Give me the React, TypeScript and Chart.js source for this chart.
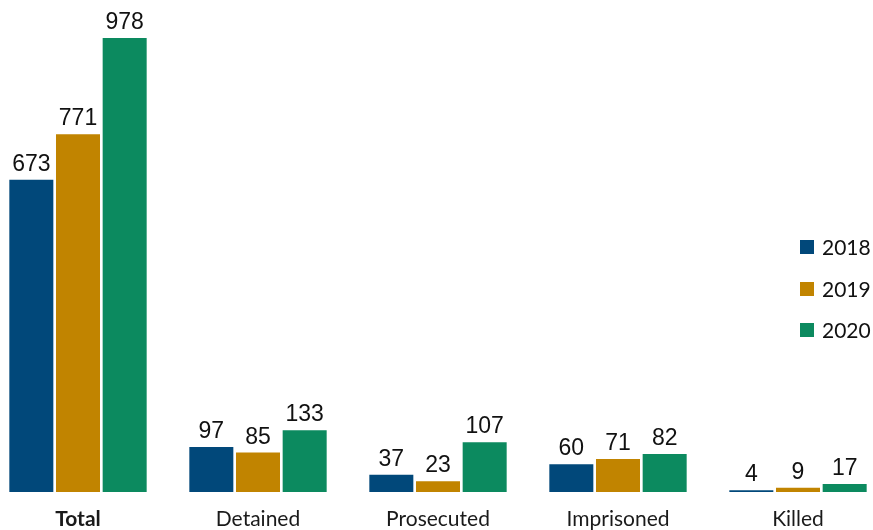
import React, { useEffect, useRef } from "react";
import { Chart, registerables } from "chart.js";

Chart.register(...registerables);

const categories = ["Total", "Detained", "Prosecuted", "Imprisoned", "Killed"];
const seriesNames = ["2018", "2019", "2020"];
const values2018 = [673, 97, 37, 60, 4];
const values2019 = [771, 85, 23, 71, 9];
const values2020 = [978, 133, 107, 82, 17];
const colors = ["#01487a", "#c18400", "#0c8a5f"];
const yMax = 1060;

const labelPlugin = {
  id: "valueLabels",
  afterDatasetsDraw(chart: any) {
    const ctx = chart.ctx;
    ctx.save();
    ctx.font = '23px "Liberation Sans Narrow", "Arial Narrow", sans-serif';
    ctx.fillStyle = "#111111";
    ctx.textAlign = "center";
    ctx.textBaseline = "alphabetic";
    chart.data.datasets.forEach((ds: any, i: number) => {
      const meta = chart.getDatasetMeta(i);
      meta.data.forEach((bar: any, j: number) => {
        ctx.fillText(String(ds.data[j]), bar.x, bar.y - 9);
      });
    });
    ctx.restore();
  },
};

const legendPlugin = {
  id: "sideLegend",
  afterDraw(chart: any) {
    const ctx = chart.ctx;
    ctx.save();
    const x = 812;
    const centers = [247, 289, 330];
    ctx.font = '21px Lato, sans-serif';
    ctx.textBaseline = "middle";
    ctx.textAlign = "left";
    chart.data.datasets.forEach((ds: any, i: number) => {
      ctx.fillStyle = ds.backgroundColor;
      ctx.fillRect(x, centers[i] - 7, 14, 14);
      ctx.fillStyle = "#111111";
      ctx.fillText(ds.label, x + 22, centers[i] + 1);
    });
    ctx.restore();
  },
};

export default function App() {
  const ref = useRef<HTMLCanvasElement>(null);
  useEffect(() => {
    if (!ref.current) return;
    const seriesValues = [values2018, values2019, values2020];
    const chart = new Chart(ref.current, {
      type: "bar",
      data: {
        labels: categories,
        datasets: seriesNames.map((name, i) => ({
          label: name,
          data: seriesValues[i],
          backgroundColor: colors[i],
          borderWidth: 0,
          categoryPercentage: 0.7778,
          barPercentage: 0.943,
        })),
      },
      options: {
        responsive: false,
        devicePixelRatio: 1,
        animation: false,
        layout: { padding: 0 },
        plugins: {
          legend: { display: false },
          tooltip: { enabled: false },
        },
        scales: {
          x: {
            grid: { display: false, drawTicks: false },
            border: { display: false },
            ticks: {
              padding: 15,
              color: "#1a1a1a",
              font: (c: any) => ({
                family: "Lato, sans-serif",
                size: 21,
                weight: c.index === 0 ? "bold" : "normal",
              }),
            },
            afterFit: (scale: any) => {
              scale.height = 38;
            },
          },
          y: {
            display: false,
            min: 0,
            max: yMax,
          },
        },
      },
      plugins: [labelPlugin, legendPlugin],
    });
    return () => chart.destroy();
  }, []);
  return (
    <div style={{ position: "fixed", left: 0, top: 0, width: 873, height: 530, overflow: "hidden", background: "#fff" }}>
      <div style={{ position: "absolute", left: -12, top: 0, width: 900, height: 530 }}>
        <canvas ref={ref} width={900} height={530} style={{ display: "block" }} />
      </div>
    </div>
  );
}
